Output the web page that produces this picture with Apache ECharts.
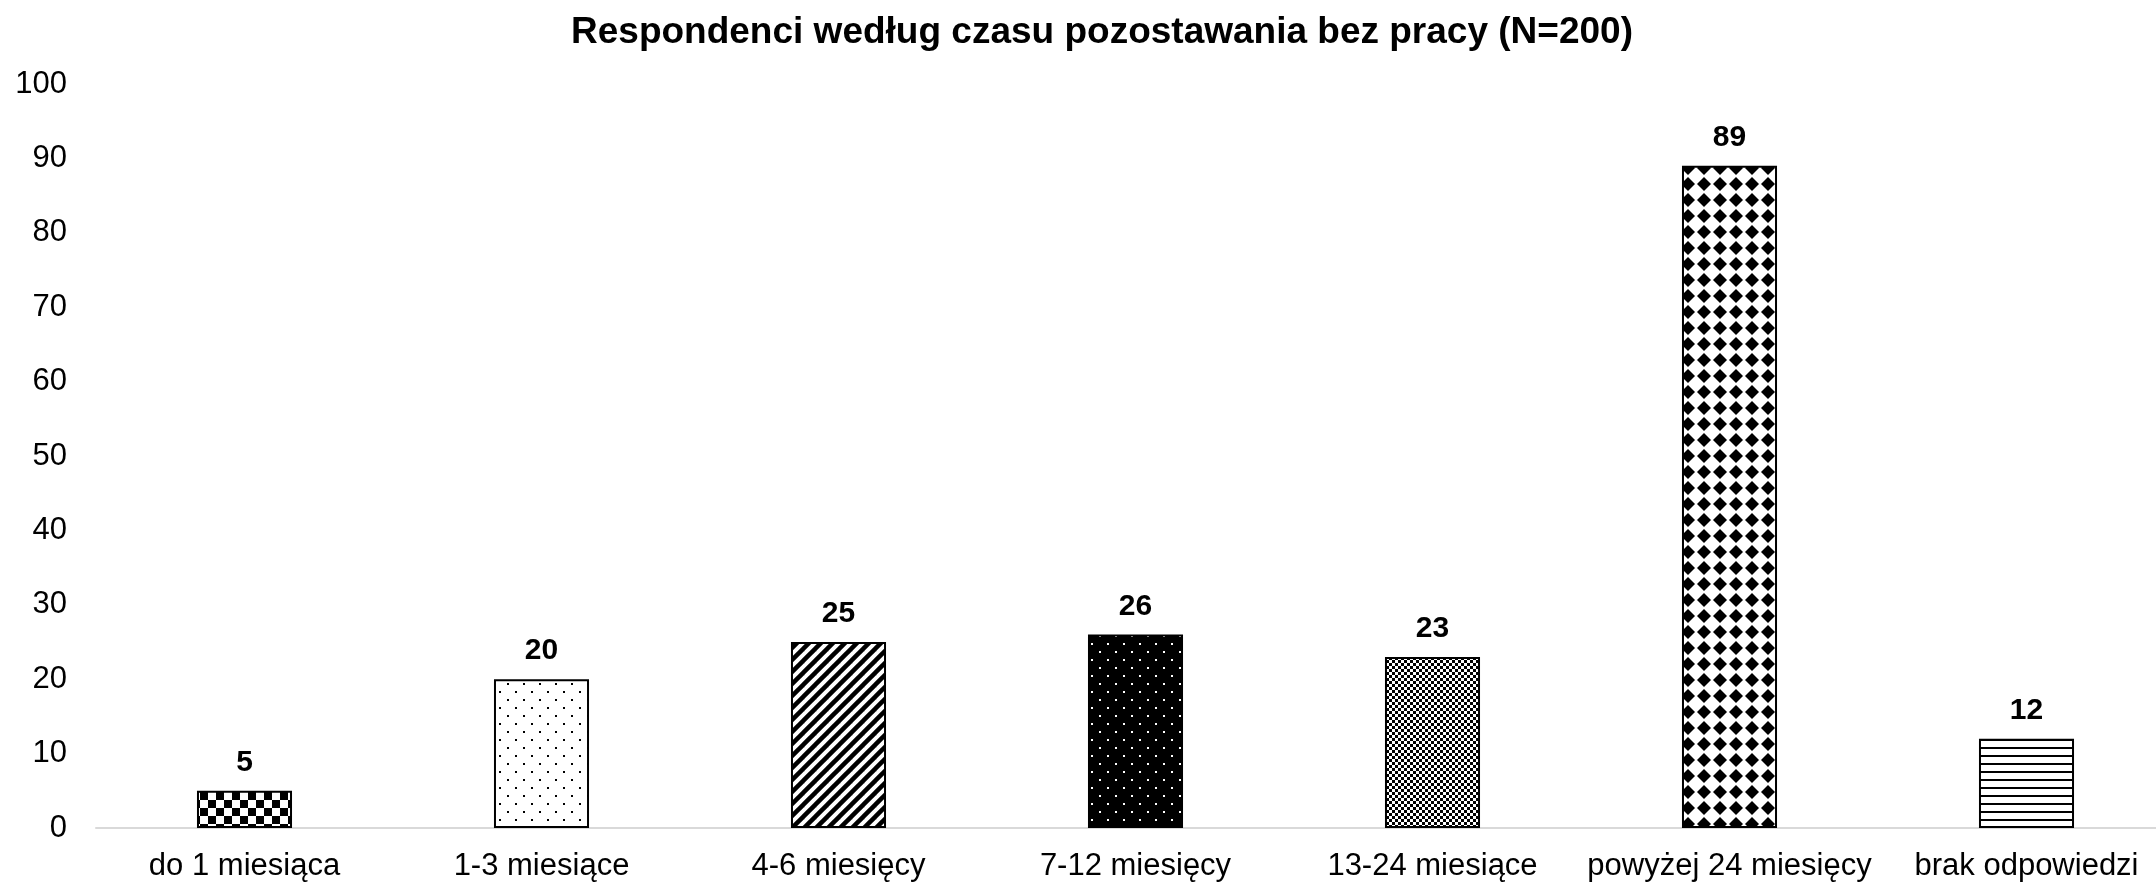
<!DOCTYPE html>
<html>
<head>
<meta charset="utf-8">
<script src="https://cdn.jsdelivr.net/npm/echarts@6/dist/echarts.min.js"></script>
<style>
  html, body { margin: 0; padding: 0; background: #fff; }
  #chart { width: 2156px; height: 884px; }
</style>
</head>
<body>
<div id="chart"></div>
<script>
// dane
const categories = ['do 1 miesiąca', '1-3 miesiące', '4-6 miesięcy', '7-12 miesięcy', '13-24 miesiące', 'powyżej 24 miesięcy', 'brak odpowiedzi']
const values = [5, 20, 25, 26, 23, 89, 12]
const patternNames = ['checker', 'dots', 'diagonal', 'blackDots', 'fineChecker', 'diamonds', 'hlines']

// wzory wypełnienia słupków (jak w Excelu)
function tile(w, h, bg, fg, draw) {
  const c = document.createElement('canvas')
  c.width = w
  c.height = h
  const g = c.getContext('2d')
  g.fillStyle = bg
  g.fillRect(0, 0, w, h)
  g.fillStyle = fg
  g.strokeStyle = fg
  draw(g, w, h)
  return { image: c, repeat: 'repeat' }
}

const patterns = {
  checker: () => tile(16, 16, '#fff', '#000', g => {
    g.fillRect(0, 0, 8, 8)
    g.fillRect(8, 8, 8, 8)
  }),
  dots: () => tile(16, 16, '#fff', '#000', g => {
    g.fillRect(3, 3, 2, 2)
    g.fillRect(11, 11, 2, 2)
  }),
  diagonal: () => tile(12, 12, '#fff', '#000', g => {
    g.lineWidth = 4.5
    for (const o of [-12, 0, 12]) {
      g.beginPath()
      g.moveTo(o - 2, 14)
      g.lineTo(o + 14, -2)
      g.stroke()
    }
  }),
  blackDots: () => tile(16, 16, '#000', '#fff', g => {
    g.fillRect(3, 3, 2, 2)
    g.fillRect(11, 11, 2, 2)
  }),
  fineChecker: () => tile(6, 6, '#fff', '#000', g => {
    g.fillRect(0, 0, 3, 3)
    g.fillRect(3, 3, 3, 3)
  }),
  diamonds: () => tile(16, 16, '#fff', '#000', g => {
    g.beginPath()
    g.moveTo(8, 1)
    g.lineTo(15, 8)
    g.lineTo(8, 15)
    g.lineTo(1, 8)
    g.closePath()
    g.fill()
  }),
  hlines: () => tile(8, 8, '#fff', '#000', g => {
    g.fillRect(0, 3, 8, 2)
  })
}

const chart = echarts.init(document.getElementById('chart'), null, { renderer: 'canvas' })

const fontFamily = '"Liberation Sans", Arial, sans-serif'

const option = {
  backgroundColor: '#fff',
  animation: false,
  title: {
    text: 'Respondenci według czasu pozostawania bez pracy (N=200)',
    left: 566,
    top: 9,
    textStyle: {
      fontFamily,
      fontSize: 37,
      fontWeight: 'bold',
      color: '#000'
    }
  },
  grid: {
    left: 96,
    right: -19,
    top: 84,
    bottom: 56,
    outerBoundsMode: 'none'
  },
  xAxis: {
    type: 'category',
    data: categories,
    axisLine: { lineStyle: { color: '#d9d9d9', width: 2 } },
    axisTick: { show: false },
    axisLabel: {
      interval: 0,
      margin: 23,
      fontFamily,
      fontSize: 31,
      color: '#000'
    }
  },
  yAxis: {
    type: 'value',
    min: 0,
    max: 100,
    interval: 10,
    splitLine: { show: false },
    axisLine: { show: false },
    axisTick: { show: false },
    axisLabel: {
      margin: 29,
      fontFamily,
      fontSize: 31,
      color: '#000'
    }
  },
  series: [
    {
      type: 'bar',
      barWidth: '32%',
      data: values.map((v, i) => ({
        value: v,
        itemStyle: {
          color: patterns[patternNames[i]](),
          borderColor: '#000',
          borderWidth: 2
        }
      })),
      label: {
        show: true,
        position: 'top',
        distance: 13,
        fontFamily,
        fontSize: 30,
        fontWeight: 'bold',
        color: '#000'
      }
    }
  ]
}

chart.setOption(option)
</script>
</body>
</html>
